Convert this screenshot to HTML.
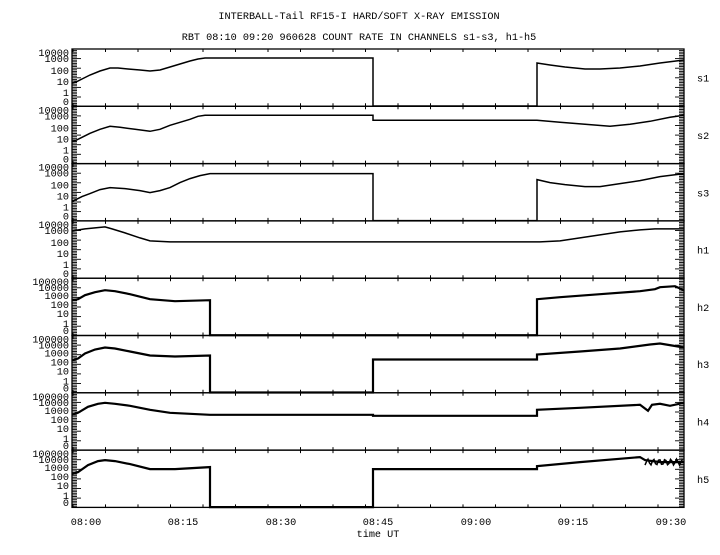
<!DOCTYPE html>
<html><head><meta charset="utf-8"><style>
body{margin:0;background:#fff;width:720px;height:550px;overflow:hidden}
svg text{font-family:"Liberation Mono",monospace;font-size:10.2px;fill:#000}
</style></head><body>
<svg id="s" width="720" height="550" xmlns="http://www.w3.org/2000/svg">
<text x="359" y="19" text-anchor="middle">INTERBALL-Tail RF15-I HARD/SOFT X-RAY EMISSION</text>
<text x="359" y="40" text-anchor="middle">RBT 08:10 09:20 960628  COUNT RATE IN CHANNELS s1-s3, h1-h5</text>
<g id="g"></g>
<text x="86" y="525" text-anchor="middle">08:00</text>
<text x="183" y="525" text-anchor="middle">08:15</text>
<text x="281" y="525" text-anchor="middle">08:30</text>
<text x="378" y="525" text-anchor="middle">08:45</text>
<text x="476" y="525" text-anchor="middle">09:00</text>
<text x="573" y="525" text-anchor="middle">09:15</text>
<text x="671" y="525" text-anchor="middle">09:30</text>
<text x="378" y="537" text-anchor="middle">time UT</text>
</svg>
<script>
var g=document.getElementById('g'),h='';
var L=72,R=684,T=49,H=57.3;
var names=['s1','s2','s3','h1','h2','h3','h4','h5'];
var sl=[['10000',3],['1000',9],['100',21],['10',32],['1',43],['0',52]];
var hl=[['100000',3],['10000',9],['1000',17],['100',26],['10',35],['1',45],['0',52]];
var curves=[
[[72,34],[76,33],[82,30],[90,26],[100,22],[110,19],[118,19],[128,20],[140,21],[150,22],[160,21],[170,18],[180,15],[190,12],[198,10],[205,9],[373,9],[373,57],[537,57],[537,14],[550,16],[565,18],[585,20],[600,20],[620,19],[640,17],[660,14],[684,11]],
[[72,35],[76,34],[82,31],[90,27],[100,23],[110,20],[120,21],[135,23],[150,25],[160,23],[170,19],[180,16],[190,13],[198,10],[205,9],[373,9],[373,14],[537,14],[560,16],[585,18],[610,20],[630,18],[650,15],[670,11],[684,9]],
[[72,38],[76,36],[82,33],[90,30],[100,26],[110,24],[125,25],[140,27],[150,29],[160,27],[170,24],[180,19],[190,15],[200,12],[210,10],[373,10],[373,57],[537,57],[537,16],[550,19],[565,21],[585,23],[600,23],[620,20],[640,17],[660,13],[684,10]],
[[72,10],[85,8],[95,7],[105,6],[112,8],[125,12],[140,17],[150,20],[170,21],[540,21],[560,20],[580,17],[600,14],[620,11],[640,9],[655,8],[684,8]],
[[72,22],[78,21],[85,17],[95,14],[105,12],[115,13],[130,16],[150,21],[175,23],[210,22],[210,57],[537,57],[537,21],[560,19],[600,16],[640,13],[655,11],[660,9],[675,8],[684,12]],
[[72,25],[78,23],[85,18],[95,14],[105,12],[115,13],[130,16],[150,20],[175,21],[210,20],[210,57],[373,57],[373,24],[537,24],[537,19],[580,16],[620,13],[650,9],[660,8],[672,10],[684,12]],
[[72,22],[78,20],[88,14],[98,11],[105,10],[115,11],[130,13],[150,17],[170,20],[210,22],[373,22],[373,23],[537,23],[537,17],[580,15],[640,12],[648,18],[652,12],[660,11],[670,13],[684,10]],
[[72,24],[78,22],[88,15],[98,11],[105,10],[115,11],[130,14],[150,19],[175,19],[210,17],[210,57],[373,57],[373,19],[537,19],[537,16],[580,12],[640,7],[645,10],[660,12],[684,12]]
];
for(var p=0;p<8;p++){
 var y0=T+p*H,y1=y0+H;
 h+='<rect x="'+L+'" y="'+y0+'" width="'+(R-L)+'" height="'+H+'" fill="none" stroke="#000" stroke-width="1.3"/>';
 for(var m=-2;m<=92;m+=5){var x=86+m*6.5;if(x<L||x>R)continue;var len=((m%15)==0)?6:3;
  h+='<line x1="'+x+'" y1="'+y0+'" x2="'+x+'" y2="'+(y0+len)+'" stroke="#000"/><line x1="'+x+'" y1="'+y1+'" x2="'+x+'" y2="'+(y1-len)+'" stroke="#000"/>';}
 var labs=p<4?sl:hl;
 for(var i=0;i<labs.length;i++){var ly=y0+labs[i][1];
  h+='<text x="69" y="'+(ly+4)+'" text-anchor="end">'+labs[i][0]+'</text>';}
 for(var k=0;k<H;k+=1.6){var yy=y0+k;var w=(Math.round(k/1.6)%6==0)?9:5;
  h+='<line x1="'+L+'" y1="'+yy+'" x2="'+(L+w)+'" y2="'+yy+'" stroke="#000" stroke-width="0.9"/><line x1="'+R+'" y1="'+yy+'" x2="'+(R-w)+'" y2="'+yy+'" stroke="#000" stroke-width="0.9"/>';}
 h+='<text x="697" y="'+(y0+H/2+4)+'">'+names[p]+'</text>';
 var c=curves[p],pts='';
 for(var i=0;i<c.length;i++)pts+=c[i][0]+','+(y0+c[i][1])+' ';
 var sw=(p>=4)?2.2:1.5;
 h+='<polyline points="'+pts+'" fill="none" stroke="#000" stroke-width="'+sw+'"/>';
 if(p==7){var pz='';for(var x=645;x<684;x+=1.5){pz+=x+','+(y0+12+(Math.sin(x*3.1)*3))+' ';}
  h+='<polyline points="'+pz+'" fill="none" stroke="#000" stroke-width="1.5"/>';}
}
g.innerHTML=h;
</script>
</body></html>
